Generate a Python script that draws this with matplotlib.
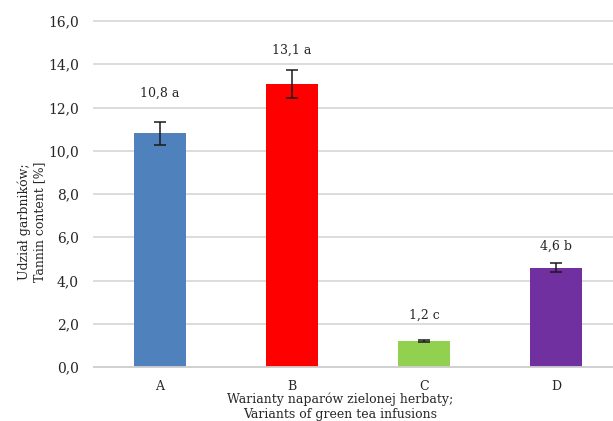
import numpy as np
import matplotlib
matplotlib.use("Agg")
import matplotlib.pyplot as plt
from matplotlib.ticker import FuncFormatter

# data
variants = ["A", "B", "C", "D"]
tannin = [10.8, 13.1, 1.2, 4.6]
tannin_err = [0.55, 0.65, 0.05, 0.22]
groups = ["a", "a", "c", "b"]
colors = ["#4F81BD", "#FF0000", "#92D050", "#7030A0"]
label_offsets = [16, 9, 13, 7.5]   # points above the error bar top

plt.rcParams['font.family'] = ['DejaVu Serif']
plt.rcParams['font.size'] = 9
txt = "#262626"

fig = plt.figure(figsize=(6.13, 4.21), dpi=100)
ax = fig.add_axes([94 / 613, 54 / 421, 528 / 613, 346 / 421])

x = np.arange(len(variants))
ax.bar(x, tannin, width=0.4, color=colors, zorder=2)
ax.errorbar(x, tannin, yerr=tannin_err, fmt="none", ecolor="#1a1a1a",
            elinewidth=1.1, capsize=4.3, capthick=1.1, zorder=3)

for xi, v, e, g, off in zip(x, tannin, tannin_err, groups, label_offsets):
    ax.annotate("{} {}".format(str(v).replace(".", ","), g), (xi, v + e),
                xytext=(0, off), textcoords="offset points",
                ha="center", va="bottom", color=txt, fontsize=9)

ax.set_xlim(-0.5, len(variants) - 0.5)
ax.set_ylim(0, 16)
ax.set_yticks(np.arange(0, 17, 2))
ax.yaxis.set_major_formatter(FuncFormatter(lambda v, p: "{:.1f}".format(v).replace(".", ",")))
ax.set_xticks(x)
ax.set_xticklabels(variants)
ax.tick_params(axis="both", length=0, colors=txt)
ax.tick_params(axis="y", pad=11, labelsize=10)
ax.tick_params(axis="x", pad=9, labelsize=9)

ax.grid(axis="y", color="#D9D9D9", linewidth=1.3, zorder=0)
for gl in ax.get_ygridlines():
    gl.set_clip_on(False)
for s in ["top", "right", "left"]:
    ax.spines[s].set_visible(False)
ax.spines["bottom"].set_color("#D0D0D0")
ax.spines["bottom"].set_linewidth(1.3)

ax.set_ylabel("Udział garbników;\nTannin content [%]", color=txt, fontsize=9,
              linespacing=1.2)
ax.yaxis.set_label_coords(-0.091, 0.419)
ax.set_xlabel("Warianty naparów zielonej herbaty;\nVariants of green tea infusions",
              color=txt, fontsize=9, linespacing=1.15)
ax.xaxis.set_label_coords(0.466, -0.075)

fig.savefig("out.png", dpi=100)
